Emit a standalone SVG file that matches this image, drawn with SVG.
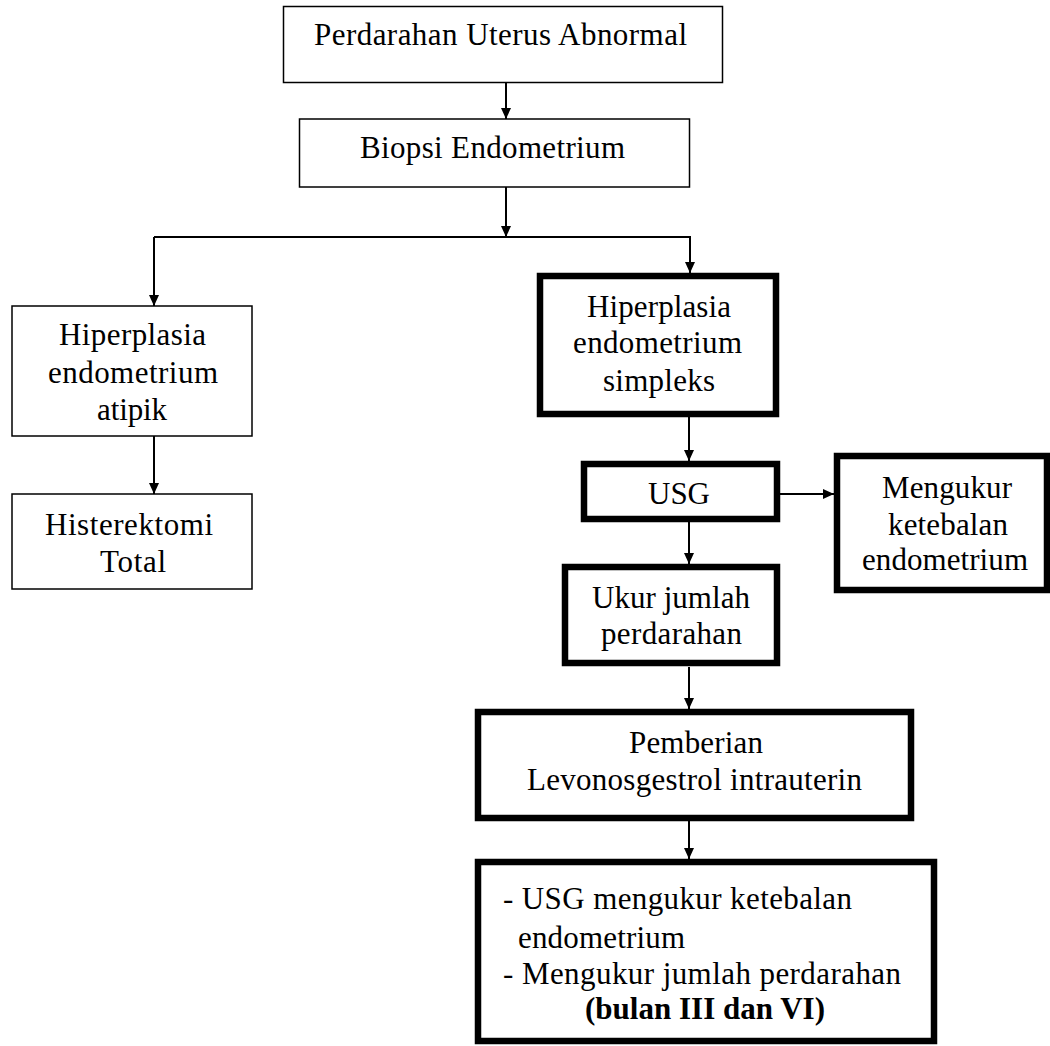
<svg xmlns="http://www.w3.org/2000/svg" width="1050" height="1046" viewBox="0 0 1050 1046">
<style>
.thin{fill:#fff;stroke:#000;stroke-width:1.5}
.thick{fill:#fff;stroke:#000;stroke-width:6.5}
text{font-family:'Liberation Serif','Times New Roman',Times,serif;font-size:31px;fill:#000}
.b{font-weight:bold}
.c{fill:none;stroke:#000;stroke-width:2}
</style>
<defs>
<marker id="ah" markerUnits="userSpaceOnUse" markerWidth="11" markerHeight="10" refX="11" refY="5" orient="auto">
<path d="M0,0 L11,5 L0,10 z" fill="#000"/>
</marker>
</defs>
<rect width="1050" height="1046" fill="#fff"/>
<g id="connectors">
<line class="c" x1="506" y1="82" x2="506" y2="119" marker-end="url(#ah)"/>
<line class="c" x1="506" y1="187" x2="506" y2="237" marker-end="url(#ah)"/>
<polyline class="c" points="154,237 690,237 690,273" marker-end="url(#ah)"/>
<line class="c" x1="154" y1="237" x2="154" y2="306" marker-end="url(#ah)"/>
<line class="c" x1="154" y1="436" x2="154" y2="494" marker-end="url(#ah)"/>
<line class="c" x1="689" y1="417" x2="689" y2="461" marker-end="url(#ah)"/>
<line class="c" x1="780" y1="494" x2="834" y2="494" marker-end="url(#ah)"/>
<line class="c" x1="689" y1="522" x2="689" y2="564" marker-end="url(#ah)"/>
<line class="c" x1="689" y1="667" x2="689" y2="709" marker-end="url(#ah)"/>
<line class="c" x1="689" y1="821" x2="689" y2="859" marker-end="url(#ah)"/>
</g>
<g id="n1">
<rect class="thin" x="283.5" y="6.5" width="439" height="76"/>
<text x="314" y="45" textLength="373" lengthAdjust="spacing" font-family="Liberation Serif, serif">Perdarahan Uterus Abnormal</text>
</g>
<g id="n2">
<rect class="thin" x="299.5" y="119" width="390" height="68"/>
<text x="360" y="158" textLength="265" lengthAdjust="spacing" font-family="Liberation Serif, serif">Biopsi Endometrium</text>
</g>
<g id="n3">
<rect class="thin" x="12" y="306" width="240" height="130"/>
<text x="59" y="345" textLength="147" lengthAdjust="spacing" font-family="Liberation Serif, serif">Hiperplasia</text>
<text x="48" y="383" textLength="170" lengthAdjust="spacing" font-family="Liberation Serif, serif">endometrium</text>
<text x="97" y="420" textLength="70" lengthAdjust="spacing" font-family="Liberation Serif, serif">atipik</text>
</g>
<g id="n4">
<rect class="thin" x="12" y="494" width="240" height="95"/>
<text x="45" y="535" textLength="168" lengthAdjust="spacing" font-family="Liberation Serif, serif">Histerektomi</text>
<text x="100" y="572" textLength="66" lengthAdjust="spacing" font-family="Liberation Serif, serif">Total</text>
</g>
<g id="n5">
<rect class="thick" x="540" y="276" width="236" height="138"/>
<text x="587" y="317" textLength="144" lengthAdjust="spacing" font-family="Liberation Serif, serif">Hiperplasia</text>
<text x="573" y="353" textLength="169" lengthAdjust="spacing" font-family="Liberation Serif, serif">endometrium</text>
<text x="603" y="391" textLength="112" lengthAdjust="spacing" font-family="Liberation Serif, serif">simpleks</text>
</g>
<g id="n6">
<rect class="thick" x="584" y="464" width="193" height="55"/>
<text x="648" y="504" textLength="62" lengthAdjust="spacing" font-family="Liberation Serif, serif">USG</text>
</g>
<g id="n7">
<rect class="thick" x="837" y="456" width="210" height="134"/>
<text x="882" y="498" textLength="130" lengthAdjust="spacing" font-family="Liberation Serif, serif">Mengukur</text>
<text x="888" y="535" textLength="120" lengthAdjust="spacing" font-family="Liberation Serif, serif">ketebalan</text>
<text x="862" y="570" textLength="166" lengthAdjust="spacing" font-family="Liberation Serif, serif">endometrium</text>
</g>
<g id="n8">
<rect class="thick" x="565" y="567" width="212" height="96"/>
<text x="592" y="608" textLength="158" lengthAdjust="spacing" font-family="Liberation Serif, serif">Ukur jumlah</text>
<text x="601" y="644" textLength="141" lengthAdjust="spacing" font-family="Liberation Serif, serif">perdarahan</text>
</g>
<g id="n9">
<rect class="thick" x="478" y="712" width="433" height="106"/>
<text x="629" y="753" textLength="134" lengthAdjust="spacing" font-family="Liberation Serif, serif">Pemberian</text>
<text x="527" y="790" textLength="335" lengthAdjust="spacing" font-family="Liberation Serif, serif">Levonosgestrol intrauterin</text>
</g>
<g id="n10">
<rect class="thick" x="478" y="862" width="456" height="179"/>
<text x="503" y="909" textLength="349" lengthAdjust="spacing" font-family="Liberation Serif, serif">- USG mengukur ketebalan</text>
<text x="518" y="948" textLength="167" lengthAdjust="spacing" font-family="Liberation Serif, serif">endometrium</text>
<text x="503" y="984" textLength="398" lengthAdjust="spacing" font-family="Liberation Serif, serif">- Mengukur jumlah perdarahan</text>
<text class="b" x="585" y="1019" textLength="240" lengthAdjust="spacing" font-family="Liberation Serif, serif">(bulan III dan VI)</text>
</g>
</svg>
